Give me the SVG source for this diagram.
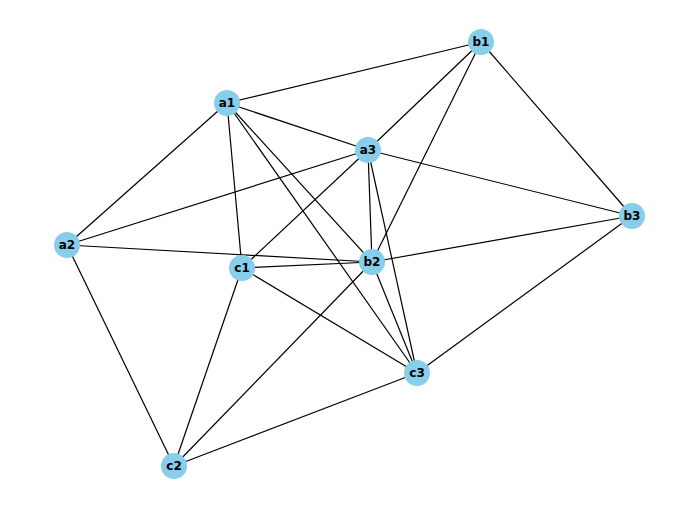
<svg xmlns="http://www.w3.org/2000/svg" width="700" height="519" viewBox="0 0 700 519">
<style>
.e{stroke:#000;stroke-width:1.2;fill:none}
.n circle{fill:#87CEEB}
.n text{font-family:"DejaVu Sans",sans-serif;font-weight:bold;font-size:12px;fill:#000;text-anchor:middle;dominant-baseline:central}
</style>
<rect width="700" height="519" fill="#fff"/>
<g id="edges">
<line class="e" x1="227" y1="103" x2="481" y2="42"/>
<line class="e" x1="227" y1="103" x2="368" y2="150"/>
<line class="e" x1="227" y1="103" x2="67" y2="245"/>
<line class="e" x1="227" y1="103" x2="242" y2="268"/>
<line class="e" x1="227" y1="103" x2="372" y2="262"/>
<line class="e" x1="227" y1="103" x2="417" y2="373"/>
<line class="e" x1="481" y1="42" x2="368" y2="150"/>
<line class="e" x1="481" y1="42" x2="372" y2="262"/>
<line class="e" x1="481" y1="42" x2="632" y2="216"/>
<line class="e" x1="368" y1="150" x2="67" y2="245"/>
<line class="e" x1="368" y1="150" x2="632" y2="216"/>
<line class="e" x1="368" y1="150" x2="242" y2="268"/>
<line class="e" x1="368" y1="150" x2="372" y2="262"/>
<line class="e" x1="368" y1="150" x2="417" y2="373"/>
<line class="e" x1="67" y1="245" x2="372" y2="262"/>
<line class="e" x1="67" y1="245" x2="174" y2="466"/>
<line class="e" x1="242" y1="268" x2="372" y2="262"/>
<line class="e" x1="242" y1="268" x2="417" y2="373"/>
<line class="e" x1="242" y1="268" x2="174" y2="466"/>
<line class="e" x1="372" y1="262" x2="632" y2="216"/>
<line class="e" x1="372" y1="262" x2="417" y2="373"/>
<line class="e" x1="372" y1="262" x2="174" y2="466"/>
<line class="e" x1="417" y1="373" x2="632" y2="216"/>
<line class="e" x1="417" y1="373" x2="174" y2="466"/>
</g>
<g id="b1" class="n"><circle cx="481" cy="42" r="13"/><text x="481" y="42">b1</text></g>
<g id="a1" class="n"><circle cx="227" cy="103" r="13"/><text x="227" y="103">a1</text></g>
<g id="a3" class="n"><circle cx="368" cy="150" r="13"/><text x="368" y="150">a3</text></g>
<g id="b3" class="n"><circle cx="632" cy="216" r="13"/><text x="632" y="216">b3</text></g>
<g id="a2" class="n"><circle cx="67" cy="245" r="13"/><text x="67" y="245">a2</text></g>
<g id="c1" class="n"><circle cx="242" cy="268" r="13"/><text x="242" y="268">c1</text></g>
<g id="b2" class="n"><circle cx="372" cy="262" r="13"/><text x="372" y="262">b2</text></g>
<g id="c3" class="n"><circle cx="417" cy="373" r="13"/><text x="417" y="373">c3</text></g>
<g id="c2" class="n"><circle cx="174" cy="466" r="13"/><text x="174" y="466">c2</text></g>
</svg>
